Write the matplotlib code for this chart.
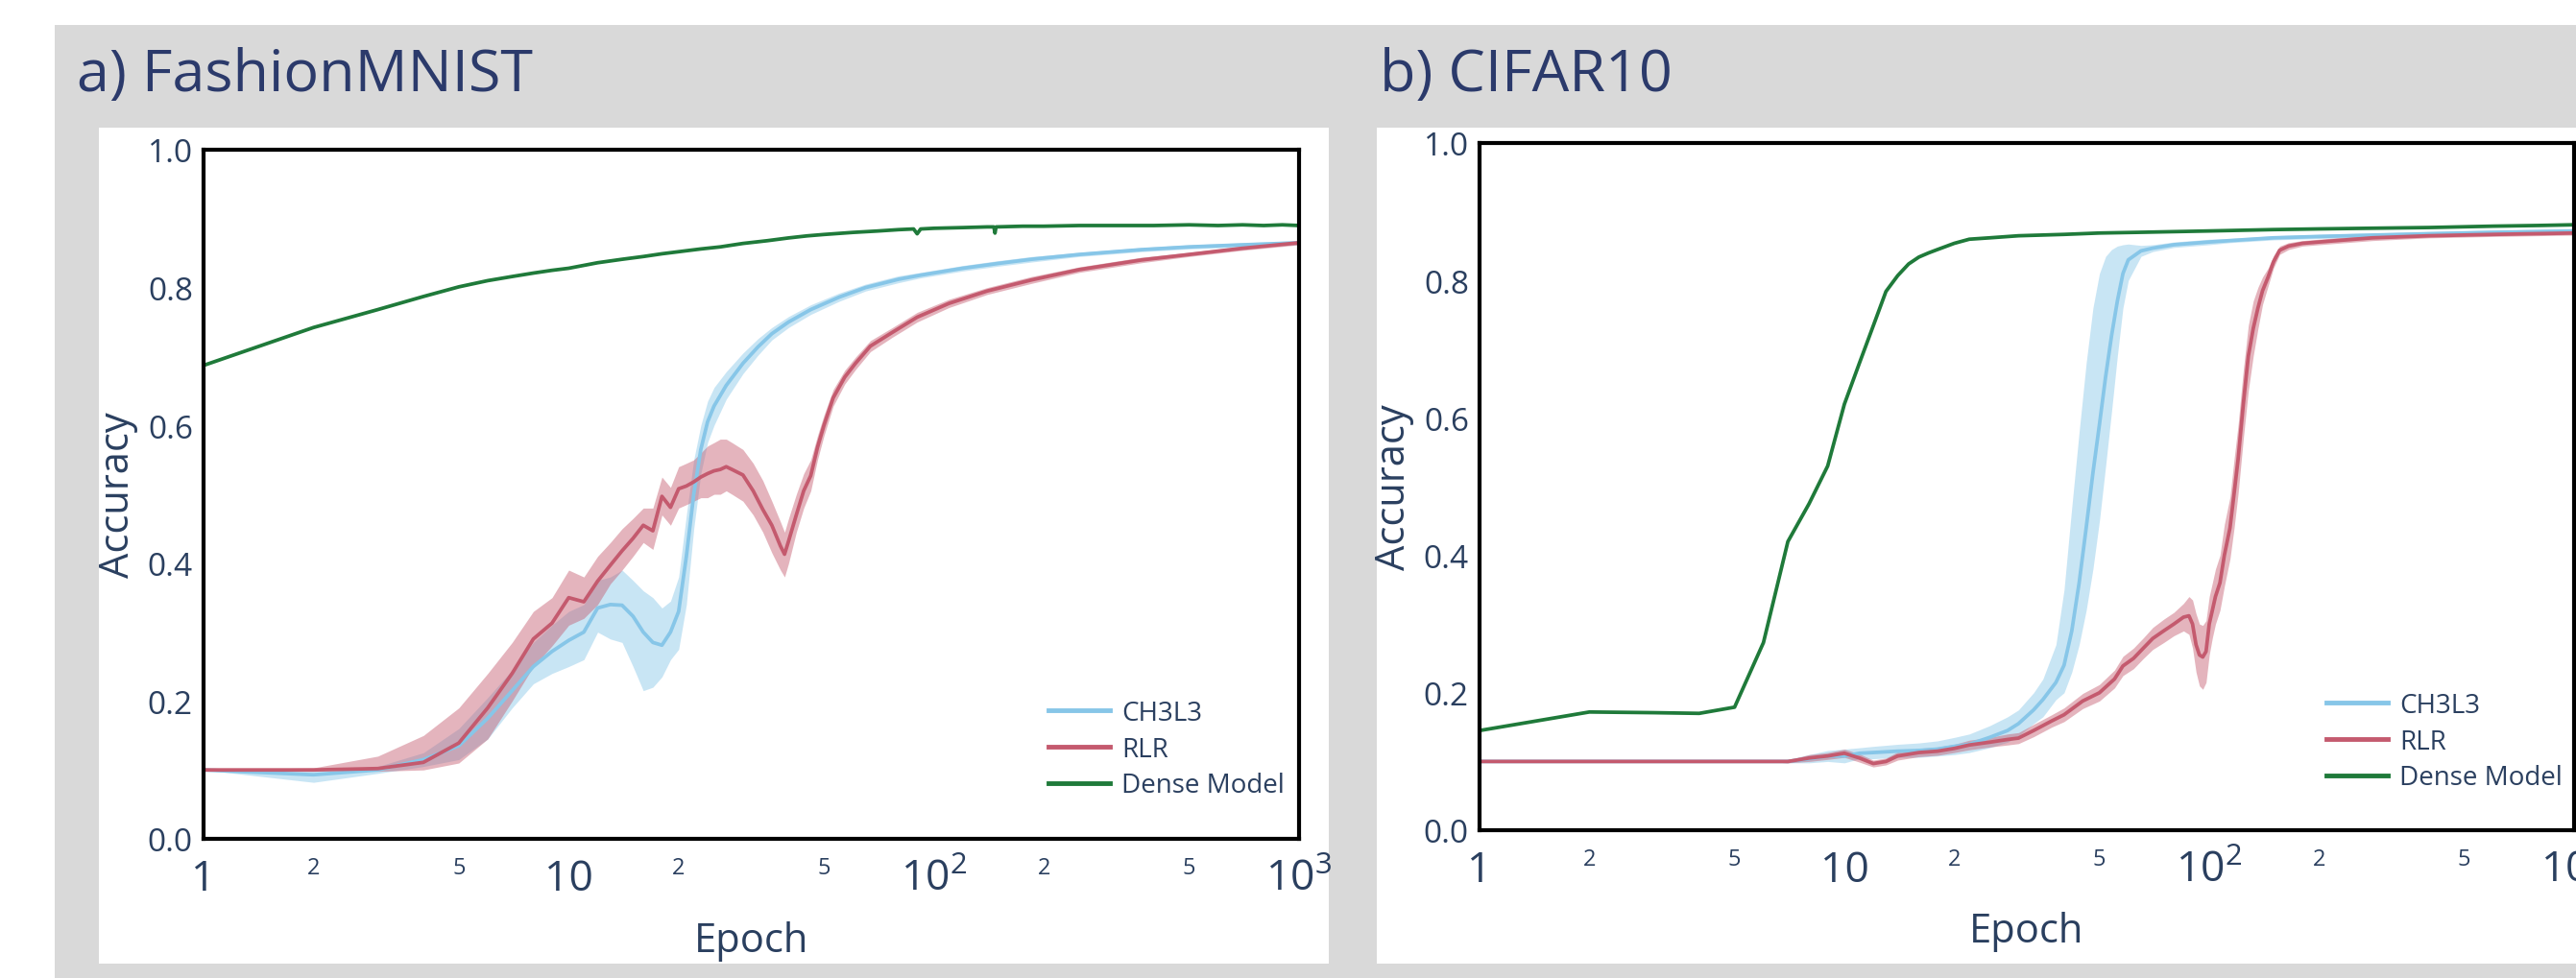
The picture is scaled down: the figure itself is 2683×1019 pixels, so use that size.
"""
两个数据集上的测试准确率曲线 (CH3L3 / RLR / Dense Model)
"""

import matplotlib
matplotlib.use("Agg")
import matplotlib.pyplot as plt
from matplotlib.patches import Rectangle
from matplotlib.lines import Line2D

plt.rcParams["font.family"] = ["Open Sans", "DejaVu Sans"]
plt.rcParams["mathtext.fontset"] = "custom"
plt.rcParams["mathtext.rm"] = "Open Sans"
plt.rcParams["mathtext.it"] = "Open Sans:italic"
plt.rcParams["mathtext.bf"] = "Open Sans:bold"

# ---------------- FashionMNIST ----------------
fm_ch_ep = [1, 2, 3, 4, 5, 6, 7, 8, 9, 10, 11, 12, 13, 14, 15, 16, 17, 18, 19, 20,
            21, 22, 23, 24, 25, 27, 30, 33, 36, 40, 46, 55, 65, 80, 92,
            120, 150, 185, 250, 370, 500, 700, 1000]
fm_ch_mean = [0.100, 0.093, 0.100, 0.115, 0.135, 0.175, 0.215, 0.250, 0.272, 0.288,
              0.300, 0.335, 0.340, 0.339, 0.323, 0.300, 0.285, 0.281, 0.300, 0.330,
              0.410, 0.500, 0.565, 0.605, 0.628,
              0.658, 0.690, 0.714, 0.733, 0.750, 0.768, 0.786, 0.800, 0.812, 0.818,
              0.828, 0.835, 0.841, 0.848, 0.855, 0.859, 0.862, 0.865]
fm_ch_lo = [0.100, 0.082, 0.095, 0.105, 0.115, 0.145, 0.190, 0.225, 0.240, 0.250,
            0.260, 0.300, 0.290, 0.285, 0.250, 0.215, 0.220, 0.235, 0.260, 0.275,
            0.340, 0.450, 0.530, 0.575, 0.600,
            0.638, 0.675, 0.702, 0.724, 0.742, 0.761, 0.780, 0.795, 0.807, 0.814,
            0.824, 0.831, 0.837, 0.845, 0.852, 0.856, 0.859, 0.862]
fm_ch_hi = [0.100, 0.100, 0.105, 0.125, 0.160, 0.205, 0.245, 0.285, 0.310, 0.330,
            0.340, 0.375, 0.380, 0.390, 0.375, 0.360, 0.350, 0.335, 0.345, 0.380,
            0.470, 0.550, 0.600, 0.635, 0.655,
            0.678, 0.705, 0.726, 0.742, 0.758, 0.775, 0.792, 0.805, 0.817, 0.822,
            0.832, 0.839, 0.845, 0.851, 0.858, 0.862, 0.865, 0.868]

fm_rlr_ep = [1, 2, 3, 4, 5, 6, 7, 8, 9, 10, 11, 12, 13, 14, 15, 16, 17, 18, 19, 20,
             21, 22, 23, 24, 25, 26, 27, 28,
             30, 32, 34, 36, 38, 39, 40, 42, 44, 46, 48, 50,
             53, 57, 61, 67, 77, 90, 110, 140, 185, 250, 370, 500, 700, 1000]
fm_rlr_mean = [0.100, 0.100, 0.102, 0.111, 0.139, 0.190, 0.240, 0.290, 0.313, 0.350,
               0.344, 0.374, 0.397, 0.418, 0.436, 0.455, 0.447, 0.497, 0.481, 0.508,
               0.512, 0.518, 0.525, 0.530, 0.534, 0.536, 0.540, 0.536,
               0.528, 0.505, 0.478, 0.455, 0.425, 0.413, 0.432, 0.470, 0.505, 0.527, 0.568, 0.600,
               0.640, 0.670, 0.690, 0.715, 0.735, 0.757, 0.777, 0.795, 0.811, 0.826, 0.840, 0.848, 0.857, 0.865]
fm_rlr_lo = [0.100, 0.100, 0.098, 0.100, 0.110, 0.145, 0.200, 0.250, 0.280, 0.310,
             0.320, 0.340, 0.370, 0.390, 0.410, 0.430, 0.420, 0.470, 0.455, 0.480,
             0.485, 0.490, 0.495, 0.495, 0.500, 0.500, 0.505, 0.500,
             0.490, 0.470, 0.445, 0.415, 0.390, 0.380, 0.400, 0.445, 0.480, 0.505, 0.550, 0.585,
             0.628, 0.660, 0.681, 0.707, 0.728, 0.750, 0.771, 0.790, 0.806, 0.822, 0.836, 0.845, 0.854, 0.862]
fm_rlr_hi = [0.100, 0.103, 0.120, 0.150, 0.190, 0.240, 0.285, 0.330, 0.350, 0.390,
             0.380, 0.410, 0.430, 0.450, 0.465, 0.480, 0.480, 0.525, 0.510, 0.540,
             0.545, 0.550, 0.560, 0.570, 0.575, 0.580, 0.580, 0.575,
             0.565, 0.545, 0.520, 0.490, 0.460, 0.445, 0.465, 0.500, 0.530, 0.550, 0.585, 0.615,
             0.652, 0.680, 0.699, 0.723, 0.742, 0.764, 0.783, 0.800, 0.816, 0.830, 0.844, 0.851, 0.860, 0.868]

fm_dense_ep = [1, 2, 3, 4, 5, 6, 7, 8, 9, 10, 12, 14, 16, 18, 20,
               23, 26, 30, 35, 40, 45, 50, 60, 70, 80, 88, 90, 92, 100,
               120, 140, 146, 147, 148, 175, 200, 250, 300, 400, 500, 600, 700, 800, 900, 1000]
fm_dense_acc = [0.687, 0.742, 0.768, 0.787, 0.801, 0.810, 0.816, 0.821, 0.825, 0.828,
                0.836, 0.841, 0.845, 0.849, 0.852,
                0.856, 0.859, 0.864, 0.868, 0.872, 0.875, 0.877,
                0.880, 0.882, 0.884, 0.885, 0.878, 0.885, 0.886,
                0.887, 0.888, 0.888, 0.879, 0.888,
                0.889, 0.889, 0.890, 0.890, 0.890, 0.891, 0.890, 0.891, 0.890, 0.891, 0.890]

# ---------------- CIFAR10 ----------------
cf_ch_ep = [1, 2, 3, 4, 5, 6, 7, 8, 9, 10, 11, 12,
            14, 16, 18, 20, 22, 25, 28, 30,
            33, 35, 38, 40, 42, 44, 46, 48, 50,
            52, 54, 56, 58, 60, 65, 70, 80,
            100, 114, 150, 200, 281, 400, 600, 1000]
cf_ch_mean = [0.100, 0.100, 0.100, 0.100, 0.100, 0.100, 0.100, 0.104, 0.108, 0.108, 0.112, 0.113,
              0.115, 0.116, 0.118, 0.122, 0.125, 0.135, 0.145, 0.155,
              0.175, 0.190, 0.215, 0.240, 0.290, 0.360, 0.440, 0.520, 0.590,
              0.660, 0.720, 0.770, 0.810, 0.830, 0.843, 0.847, 0.852,
              0.856, 0.858, 0.862, 0.864, 0.866, 0.868, 0.870, 0.872]
cf_ch_lo = [0.100, 0.100, 0.100, 0.100, 0.100, 0.100, 0.098, 0.098, 0.100, 0.098, 0.104, 0.104,
            0.106, 0.106, 0.108, 0.110, 0.113, 0.120, 0.128, 0.137,
            0.155, 0.165, 0.190, 0.200, 0.230, 0.270, 0.320, 0.380, 0.450,
            0.530, 0.610, 0.690, 0.760, 0.800, 0.835, 0.842, 0.848,
            0.852, 0.855, 0.859, 0.861, 0.863, 0.865, 0.867, 0.869]
cf_ch_hi = [0.100, 0.100, 0.100, 0.100, 0.100, 0.100, 0.103, 0.110, 0.116, 0.118, 0.120, 0.122,
            0.125, 0.127, 0.130, 0.135, 0.140, 0.152, 0.165, 0.175,
            0.200, 0.220, 0.270, 0.350, 0.470, 0.580, 0.680, 0.760, 0.810,
            0.835, 0.845, 0.850, 0.852, 0.853, 0.851, 0.852, 0.856,
            0.860, 0.861, 0.865, 0.867, 0.869, 0.871, 0.873, 0.875]

cf_rlr_ep = [1, 2, 3, 4, 5, 6, 7, 8, 9, 10, 11, 12, 13, 14,
             16, 18, 20, 22, 25, 28, 30, 33, 37, 40,
             45, 50, 55, 58, 62, 66, 70, 75, 80, 85,
             88, 90, 92, 94, 96, 98, 100, 102, 104, 107,
             110, 114, 117, 120, 124, 128, 132, 136, 140, 145,
             150, 156, 165, 180, 200, 280, 400, 600, 1000]
cf_rlr_mean = [0.100, 0.100, 0.100, 0.100, 0.100, 0.100, 0.100, 0.105, 0.108, 0.112, 0.105, 0.097, 0.100, 0.108,
               0.113, 0.115, 0.119, 0.124, 0.128, 0.132, 0.134, 0.145, 0.159, 0.168,
               0.188, 0.200, 0.220, 0.239, 0.250, 0.265, 0.279, 0.290, 0.300, 0.310,
               0.312, 0.300, 0.270, 0.255, 0.252, 0.260, 0.300, 0.320, 0.340, 0.360,
               0.400, 0.440, 0.490, 0.540, 0.620, 0.690, 0.730, 0.760, 0.785, 0.805,
               0.827, 0.844, 0.850, 0.854, 0.856, 0.862, 0.865, 0.867, 0.869]
cf_rlr_lo = [0.100, 0.100, 0.100, 0.100, 0.100, 0.100, 0.098, 0.100, 0.103, 0.106, 0.099, 0.092, 0.095, 0.102,
             0.107, 0.109, 0.113, 0.117, 0.121, 0.124, 0.126, 0.136, 0.150, 0.158,
             0.177, 0.188, 0.207, 0.225, 0.235, 0.250, 0.263, 0.273, 0.283, 0.290,
             0.285, 0.265, 0.230, 0.210, 0.205, 0.215, 0.255, 0.280, 0.300, 0.320,
             0.355, 0.395, 0.440, 0.490, 0.570, 0.640, 0.690, 0.730, 0.765, 0.792,
             0.818, 0.838, 0.845, 0.850, 0.852, 0.858, 0.862, 0.864, 0.866]
cf_rlr_hi = [0.100, 0.100, 0.100, 0.100, 0.100, 0.100, 0.102, 0.110, 0.113, 0.118, 0.111, 0.102, 0.105, 0.114,
             0.119, 0.121, 0.125, 0.131, 0.135, 0.140, 0.142, 0.154, 0.168, 0.178,
             0.199, 0.212, 0.233, 0.253, 0.265, 0.280, 0.295, 0.307, 0.317, 0.330,
             0.340, 0.335, 0.315, 0.300, 0.298, 0.305, 0.340, 0.360, 0.380, 0.400,
             0.445, 0.485, 0.540, 0.590, 0.670, 0.735, 0.770, 0.790, 0.805, 0.818,
             0.836, 0.850, 0.855, 0.858, 0.860, 0.866, 0.868, 0.870, 0.872]

cf_dense_ep = [1, 2, 3, 4, 5, 6, 7, 8, 9, 10, 11, 12, 13, 14, 15, 16, 17, 18,
               20, 22, 25, 30, 40, 50, 64, 80, 100,
               150, 200, 280, 400, 600, 800, 1000]
cf_dense_acc = [0.145, 0.172, 0.171, 0.170, 0.179, 0.273, 0.420, 0.475, 0.530, 0.620,
                0.680, 0.734, 0.784, 0.807, 0.824, 0.834, 0.840, 0.845,
                0.854, 0.860, 0.862, 0.865, 0.867, 0.869, 0.870, 0.871, 0.872,
                0.874, 0.875, 0.876, 0.877, 0.879, 0.880, 0.881]

series_names = ["CH3L3", "RLR", "Dense Model"]
x_major = [1, 10, 100, 1000]
x_major_labels = ["1", "10", r"$\mathregular{10^{2}}$", r"$\mathregular{10^{3}}$"]
x_minor = [2, 5, 20, 50, 200, 500]
x_minor_labels = ["2", "5", "2", "5", "2", "5"]
y_ticks = [0.0, 0.2, 0.4, 0.6, 0.8, 1.0]
y_tick_labels = ["0.0", "0.2", "0.4", "0.6", "0.8", "1.0"]

# 样式
CH3L3_COLOR = "#87c6e8"
RLR_COLOR = "#c45a6e"
DENSE_COLOR = "#1f7a3a"
TEXT_COLOR = "#2a3f5f"
TITLE_COLOR = "#2b3a6b"
GREY = "#d9d9d9"

W, H, DPI = 2683, 1020, 100


def fig_rect(x0, y0, x1, y1):
    """像素框 (左上原点) -> figure 坐标"""
    return [x0 / W, 1 - y1 / H, (x1 - x0) / W, (y1 - y0) / H]


def draw_panel(fig, ax_px, title, title_px, legend_px, xlabel_top, ch, rlr, dense):
    x0, y0, x1, y1 = ax_px
    ax = fig.add_axes(fig_rect(*ax_px))

    # 均值 + 阴影区间
    for (ep, mean, lo, hi), color in ((ch, CH3L3_COLOR), (rlr, RLR_COLOR)):
        ax.fill_between(ep, lo, hi, color=color, alpha=0.45, lw=0)
        ax.plot(ep, mean, color=color, lw=2.7)
    ax.plot(dense[0], dense[1], color=DENSE_COLOR, lw=2.7)

    ax.set_xscale("log")
    ax.set_xlim(1, 1000)
    ax.set_ylim(0, 1)

    ax.set_xticks(x_major, labels=x_major_labels)
    ax.set_xticks(x_minor, labels=x_minor_labels, minor=True)
    ax.set_yticks(y_ticks, labels=y_tick_labels)
    ax.tick_params(axis="x", which="major", length=0, labelsize=32, pad=38, colors=TEXT_COLOR)
    ax.tick_params(axis="x", which="minor", length=0, labelsize=17, pad=26, colors=TEXT_COLOR)
    ax.tick_params(axis="y", length=0, labelsize=24, pad=8, colors=TEXT_COLOR)
    for t in ax.xaxis.get_major_ticks() + ax.xaxis.get_minor_ticks():
        t.label1.set_verticalalignment("baseline")

    for sp in ax.spines.values():
        sp.set_linewidth(3)
        sp.set_color("black")

    ax.set_xlabel("Epoch", fontsize=30, color=TEXT_COLOR)
    ax.xaxis.set_label_coords(0.5, -(xlabel_top - y1) / (y1 - y0))
    ax.set_ylabel("Accuracy", fontsize=30, color=TEXT_COLOR, va="center")
    ax.yaxis.set_label_coords(-89 / (x1 - x0), 0.5)

    handles = [Line2D([], [], color=c, lw=3.5) for c in (CH3L3_COLOR, RLR_COLOR, DENSE_COLOR)]
    lx, ly = legend_px
    ax.legend(handles, series_names, loc="upper left",
              bbox_to_anchor=((lx - x0) / (x1 - x0), (y1 - ly) / (y1 - y0)),
              frameon=False, fontsize=20, labelcolor=TEXT_COLOR,
              handlelength=2.3, handletextpad=0.45, labelspacing=0.35,
              borderpad=0, borderaxespad=0)

    fig.text(title_px[0] / W, 1 - title_px[1] / H, title, fontsize=44,
             color=TITLE_COLOR, ha="left", va="baseline")
    return ax


fig = plt.figure(figsize=(W / DPI, H / DPI), dpi=DPI, facecolor="white")
fig.add_artist(Rectangle((57 / W, 0), 1 - 57 / W, 1 - 27 / H, transform=fig.transFigure,
                         facecolor=GREY, edgecolor="none", zorder=-10))
for box in ((103, 134, 1384, 1005), (1434, 134, W + 5, 1005)):
    r = fig_rect(*box)
    fig.add_artist(Rectangle((r[0], r[1]), r[2], r[3], transform=fig.transFigure,
                             facecolor="white", edgecolor="none", zorder=-9))

draw_panel(fig, (212, 157, 1353, 875), "a) FashionMNIST", (80, 95), (1092, 730), 960,
           (fm_ch_ep, fm_ch_mean, fm_ch_lo, fm_ch_hi),
           (fm_rlr_ep, fm_rlr_mean, fm_rlr_lo, fm_rlr_hi),
           (fm_dense_ep, fm_dense_acc))
draw_panel(fig, (1541, 150, 2681, 866), "b) CIFAR10", (1437, 95), (2423, 722), 950,
           (cf_ch_ep, cf_ch_mean, cf_ch_lo, cf_ch_hi),
           (cf_rlr_ep, cf_rlr_mean, cf_rlr_lo, cf_rlr_hi),
           (cf_dense_ep, cf_dense_acc))

fig.savefig("out.png", dpi=DPI)
